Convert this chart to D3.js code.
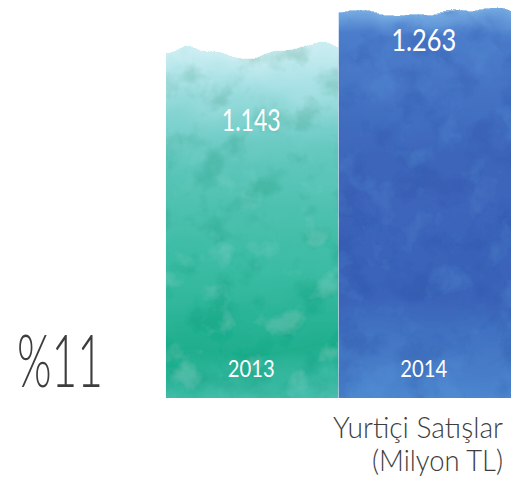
<!DOCTYPE html>
<html>
<head>
<meta charset="utf-8">
<script src="https://cdn.jsdelivr.net/npm/d3@7"></script>
<style>
  html, body { margin: 0; padding: 0; background: #fff; }
  svg { display: block; }
</style>
</head>
<body>
<div id="chart-ctn"></div>
<script>
// Data
let years = ["2013", "2014"];
let sales = [1143, 1263];
let valueLabels = ["1.143", "1.263"];
let growthLabel = "%11";
let titleLines = ["Yurtiçi Satışlar", "(Milyon TL)"];

let width = 517;
let height = 490;

let svg = d3.select("#chart-ctn")
    .append("svg")
    .attr("width", width)
    .attr("height", height);

let x = d3.scaleBand().domain(years).range([166, 511]).padding(0);
let y = d3.scaleLinear().domain([0, 1290]).range([398, 6]);

let defs = svg.append("defs");

// gradients for each bar
let grads = [
    [["0%", "#cdeef3"], ["9%", "#abe2e6"], ["19%", "#7fd2cf"], ["30%", "#5ec6bb"], ["60%", "#39bba2"], ["82%", "#1fae8d"], ["100%", "#52c3b6"]],
    [["0%", "#78ade3"], ["6%", "#4c7dcb"], ["35%", "#3d66ba"], ["70%", "#3a63b8"], ["100%", "#5190d4"]]
];
grads.forEach((stops, i) => {
    let g = defs.append("linearGradient")
        .attr("id", "grad" + i)
        .attr("x1", 0).attr("y1", 0).attr("x2", 0).attr("y2", 1);
    stops.forEach(s => g.append("stop").attr("offset", s[0]).attr("stop-color", s[1]));
});

// watercolor-ish filter: vertical-only displacement for the ragged top + blotchy texture
function makeFilter(id, seed, dark, light) {
    let f = defs.append("filter")
        .attr("id", id)
        .attr("x", "-5%").attr("y", "-10%")
        .attr("width", "110%").attr("height", "120%");
    f.append("feTurbulence")
        .attr("type", "fractalNoise")
        .attr("baseFrequency", "0.014 0.02")
        .attr("numOctaves", 3)
        .attr("seed", seed)
        .attr("result", "noise");
    // lock x displacement to zero
    f.append("feColorMatrix")
        .attr("in", "noise")
        .attr("type", "matrix")
        .attr("values", "0 0 0 0 0.5  0 1 0 0 0  0 0 1 0 0  0 0 0 0 1")
        .attr("result", "vnoise");
    f.append("feDisplacementMap")
        .attr("in", "SourceGraphic")
        .attr("in2", "vnoise")
        .attr("scale", 34)
        .attr("xChannelSelector", "R")
        .attr("yChannelSelector", "G")
        .attr("result", "shape");
    // blotches
    f.append("feTurbulence")
        .attr("type", "fractalNoise")
        .attr("baseFrequency", "0.03")
        .attr("numOctaves", 4)
        .attr("seed", seed + 7)
        .attr("result", "blot");
    f.append("feColorMatrix")
        .attr("in", "blot")
        .attr("type", "matrix")
        .attr("values", "0 0 0 0 0  0 0 0 0 0  0 0 0 0 0  4 0 0 0 -2.0")
        .attr("result", "darkMask");
    f.append("feColorMatrix")
        .attr("in", "blot")
        .attr("type", "matrix")
        .attr("values", "0 0 0 0 0  0 0 0 0 0  0 0 0 0 0  0 -4 0 0 1.8")
        .attr("result", "lightMask");
    f.append("feFlood").attr("flood-color", dark).attr("flood-opacity", 0.3).attr("result", "dk");
    f.append("feComposite").attr("in", "dk").attr("in2", "darkMask").attr("operator", "in").attr("result", "dk2");
    f.append("feFlood").attr("flood-color", light).attr("flood-opacity", 0.22).attr("result", "lt");
    f.append("feComposite").attr("in", "lt").attr("in2", "lightMask").attr("operator", "in").attr("result", "lt2");
    let m = f.append("feMerge").attr("result", "tex");
    m.append("feMergeNode").attr("in", "shape");
    m.append("feMergeNode").attr("in", "dk2");
    m.append("feMergeNode").attr("in", "lt2");
    f.append("feComposite").attr("in", "tex").attr("in2", "shape").attr("operator", "in");
}
makeFilter("wc0", 4, "#0c9a78", "#8fdcd6");
makeFilter("wc1", 11, "#2a4ea4", "#5f97dc");

defs.append("clipPath").attr("id", "baseClip")
    .append("rect")
    .attr("x", 0).attr("y", 0)
    .attr("width", width).attr("height", y(0));

// bars
let bars = svg.append("g").selectAll("g")
    .data(years)
    .join("g")
    .attr("clip-path", "url(#baseClip)");

bars.append("rect")
    .attr("x", d => x(d))
    .attr("y", (d, i) => y(sales[i]))
    .attr("width", x.bandwidth())
    .attr("height", (d, i) => y(0) - y(sales[i]) + 20)
    .attr("fill", (d, i) => "url(#grad" + i + ")")
    .attr("filter", (d, i) => "url(#wc" + i + ")");

// value labels
let labelDy = [80, 37];
svg.append("g").selectAll("text")
    .data(valueLabels)
    .join("text")
    .attr("x", (d, i) => x(years[i]) + x.bandwidth() / 2 - 1)
    .attr("y", (d, i) => y(sales[i]) + labelDy[i])
    .attr("text-anchor", "middle")
    .style("font-family", "Lato, 'Open Sans', sans-serif")
    .style("font-weight", 400)
    .style("font-size", "30px")
    .style("fill", "#ffffff")
    .attr("textLength", (d, i) => i === 0 ? 59 : 65)
    .attr("lengthAdjust", "spacingAndGlyphs")
    .text(d => d);

// year labels
svg.append("g").selectAll("text")
    .data(years)
    .join("text")
    .attr("x", d => x(d) + x.bandwidth() / 2 - 1)
    .attr("y", 377)
    .attr("text-anchor", "middle")
    .style("font-family", "Lato, 'Open Sans', sans-serif")
    .style("font-weight", 400)
    .style("font-size", "24px")
    .style("fill", "#ffffff")
    .attr("textLength", 47)
    .attr("lengthAdjust", "spacingAndGlyphs")
    .text(d => d);

// growth
svg.append("text")
    .attr("x", 17)
    .attr("y", 387)
    .style("font-family", "Lato, 'Open Sans', sans-serif")
    .style("font-weight", 300)
    .style("font-size", "72px")
    .style("fill", "#3d3d3d")
    .attr("textLength", 86)
    .attr("lengthAdjust", "spacingAndGlyphs")
    .text(growthLabel);

// title
svg.append("g").selectAll("text")
    .data(titleLines)
    .join("text")
    .attr("x", 503)
    .attr("y", (d, i) => 438 + i * 33)
    .attr("text-anchor", "end")
    .style("font-family", "Lato, 'Open Sans', sans-serif")
    .style("font-weight", 300)
    .style("font-size", "30px")
    .style("fill", "#3d3d3d")
    .attr("textLength", (d, i) => i === 0 ? 170 : 131)
    .attr("lengthAdjust", "spacingAndGlyphs")
    .text(d => d);
</script>
</body>
</html>
